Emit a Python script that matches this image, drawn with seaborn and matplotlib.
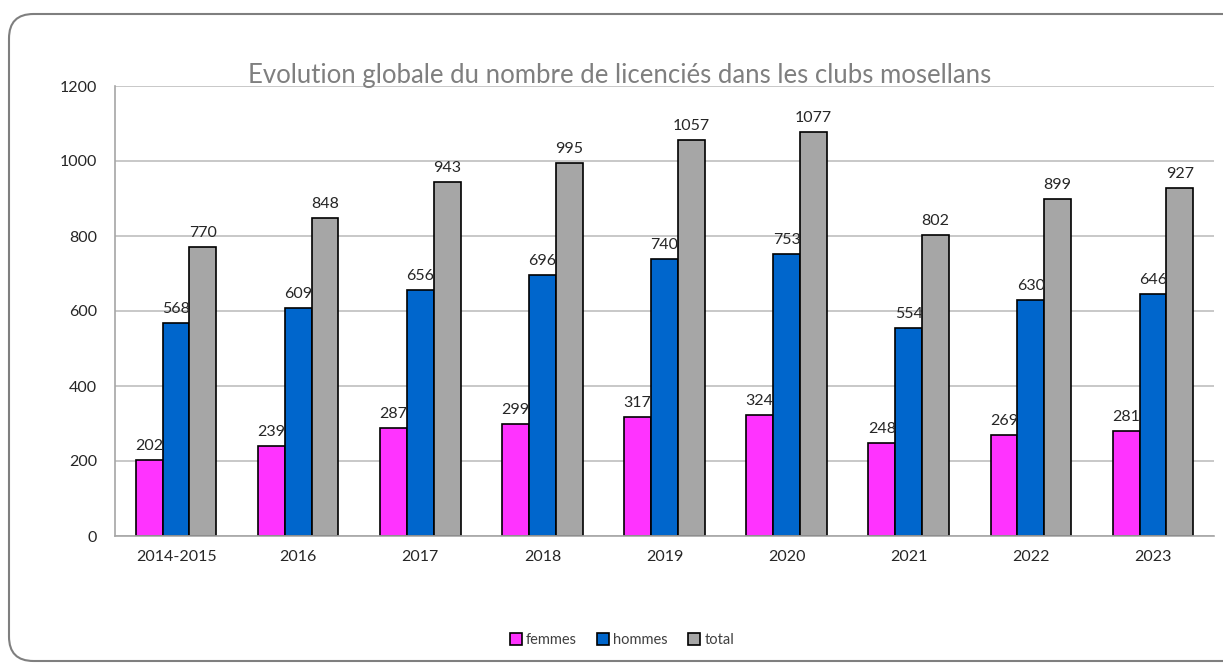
import matplotlib
matplotlib.use("Agg")
import matplotlib.pyplot as plt
from matplotlib.patches import FancyBboxPatch, Patch
import seaborn as sns
import pandas as pd

categories = ["2014-2015", "2016", "2017", "2018", "2019", "2020", "2021", "2022", "2023"]
femmes = [202, 239, 287, 299, 317, 324, 248, 269, 281]
hommes = [568, 609, 656, 696, 740, 753, 554, 630, 646]
total = [770, 848, 943, 995, 1057, 1077, 802, 899, 927]
series_names = ["femmes", "hommes", "total"]
colors = ["#FF33FF", "#0066CC", "#A6A6A6"]
title = "Evolution globale du nombre de licenciés dans les clubs mosellans"

rows = []
for name, vals in zip(series_names, [femmes, hommes, total]):
    for c, v in zip(categories, vals):
        rows.append({"annee": c, "serie": name, "valeur": v})
df = pd.DataFrame(rows)

sns.set_style("white")
plt.rcParams["font.family"] = ["Lato", "DejaVu Sans"]

fig = plt.figure(figsize=(12.23, 6.63), dpi=100)
ax = fig.add_axes([115 / 1223, 1 - 536 / 663, (1214 - 115) / 1223, (536 - 86) / 663])

sns.barplot(data=df, x="annee", y="valeur", hue="serie", order=categories,
            hue_order=series_names, palette=colors, width=0.66,
            edgecolor="black", linewidth=1.2, saturation=1, ax=ax, legend=False)

ax.set_ylim(0, 1200)
ax.set_yticks(range(0, 1201, 200))
ax.set_xlim(-0.5, len(categories) - 0.5)
ax.yaxis.grid(True, color="#BFBFBF", linewidth=1.2)
ax.set_axisbelow(True)
for s in ["top", "right"]:
    ax.spines[s].set_visible(False)
for s in ["left", "bottom"]:
    ax.spines[s].set_color("#A6A6A6")
    ax.spines[s].set_linewidth(1.2)
ax.set_xlabel("")
ax.set_ylabel("")
ax.tick_params(axis="both", length=0, labelsize=11.5, colors="#262626")
ax.tick_params(axis="y", pad=13)
ax.tick_params(axis="x", pad=10)

for cont in ax.containers:
    ax.bar_label(cont, fmt="%d", padding=5, fontsize=11.5, color="#262626")

fig.text(620 / 1223, 1 - 76 / 663, title, ha="center", va="center",
         fontsize=18.5, color="#7F7F7F")

handles = [Patch(facecolor=c, edgecolor="black", linewidth=1.2) for c in colors]
fig.legend(handles, series_names, loc="center", bbox_to_anchor=(622 / 1223, 1 - 640 / 663),
           ncol=3, frameon=False, fontsize=10.5, handlelength=0.8, handleheight=0.8,
           handletextpad=0.3, columnspacing=1.4, labelcolor="#404040")

frame = FancyBboxPatch((9 / 1223, 2 / 663), 1.05, (661 - 14) / 663,
                       boxstyle="round,pad=0,rounding_size=0.02",
                       transform=fig.transFigure, facecolor="none",
                       edgecolor="#7F7F7F", linewidth=1.5, clip_on=False,
                       mutation_aspect=1223 / 663)
fig.patches.append(frame)

fig.savefig("out.png", dpi=100)
